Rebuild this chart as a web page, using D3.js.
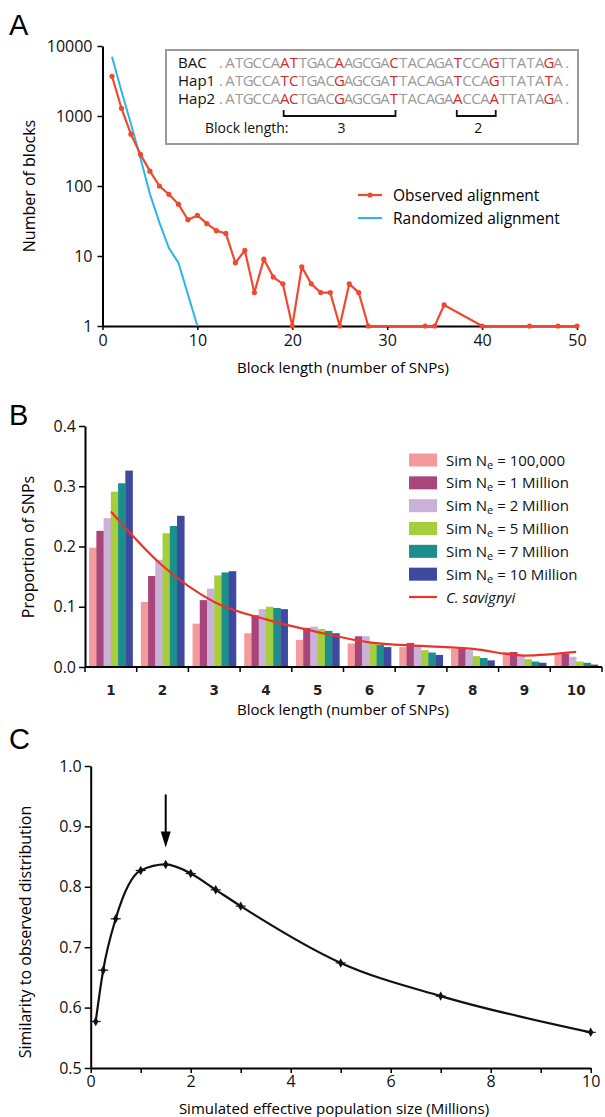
<!DOCTYPE html>
<html>
<head>
<meta charset="utf-8">
<script src="https://cdn.jsdelivr.net/npm/d3@7"></script>
<style>
  body { margin: 0; background: #fff; }
  svg text { font-family: "Open Sans", sans-serif; }
</style>
</head>
<body>
<svg id="fig" width="605" height="1117"></svg>
<script>
// ---- panel A data: counts of blocks per block length (log scale)
var obsLen = [1,2,3,4,5,6,7,8,9,10,11,12,13,14,15,16,17,18,19,20,21,22,23,24,25,26,27,28,34,35,36,40,45,48,50];
var obsCount = [3700,1290,550,283,163,100,76,55,33,38,29,23,21,8,12,3,9,5,4,1,7,4,3,3,1,4,3,1,1,1,2,1,1,1,1];
var randLen = [1,2,3,4,5,6,7,8,10];
var randCount = [7000,2250,770,250,77,30,13,8,1];

// alignment inset
var seqRows = ["BAC", "Hap1", "Hap2"];
var seqs = [
  "ATGCCAATTGACAAGCGACTACAGATCCAGTTATAGA",
  "ATGCCATCTGACGAGCGATTACAGATCCAGTTATATA",
  "ATGCCAACTGACGAGCGATTACAGAACCAATTATAGA"
];
var snpCols = [7, 8, 13, 19, 26, 30, 36];
var blocks = [{from: 7, to: 19, label: "3"}, {from: 26, to: 30, label: "2"}];

// ---- panel B data
var blockCats = [1,2,3,4,5,6,7,8,9,10];
var simNames = ["100,000", "1 Million", "2 Million", "5 Million", "7 Million", "10 Million"];
var simColors = ["#f59a9c", "#a8467c", "#c9b1d8", "#a5cd3c", "#1c8f8d", "#3d4a9f"];
var sim100k = [0.198,0.108,0.072,0.056,0.045,0.039,0.033,0.030,0.025,0.021];
var sim1M   = [0.226,0.151,0.111,0.086,0.065,0.051,0.040,0.032,0.025,0.022];
var sim2M   = [0.247,0.178,0.130,0.096,0.067,0.051,0.036,0.028,0.019,0.017];
var sim5M   = [0.291,0.222,0.152,0.100,0.063,0.040,0.028,0.018,0.013,0.009];
var sim7M   = [0.305,0.234,0.157,0.098,0.060,0.037,0.024,0.015,0.009,0.007];
var sim10M  = [0.326,0.251,0.159,0.096,0.056,0.033,0.020,0.011,0.007,0.004];
var savignyi = [0.258,0.168,0.108,0.079,0.058,0.041,0.035,0.030,0.019,0.025];
var simSeries = [sim100k, sim1M, sim2M, sim5M, sim7M, sim10M];

// ---- panel C data
var neSize = [0.1,0.25,0.5,1,1.5,2,2.5,3,5,7,10];
var similarity = [0.577,0.662,0.747,0.827,0.837,0.822,0.795,0.768,0.674,0.619,0.559];

var RED = "#ee4a32", BLUE = "#2ab6e8", GREYSEQ = "#9a9a9a", SNPRED = "#d6282b";
var svg = d3.select("#fig");

function styleAxis(g, size) {
    g.selectAll(".domain").attr("stroke", "#000").attr("stroke-width", 2);
    g.selectAll(".tick line").attr("stroke", "#000").attr("stroke-width", 1.5);
    g.selectAll(".tick text").attr("fill", "#111").style("font-size", size + "px")
        .style("font-family", "'Open Sans', sans-serif");
}

function panelLetter(t, x, y) {
    svg.append("text").attr("x", x).attr("y", y).text(t)
        .style("font-family", "'Liberation Sans', Arial, sans-serif")
        .style("font-size", "29px").attr("fill", "#000");
}

//////// PANEL A
var xA = d3.scaleLinear().domain([0, 50]).range([102.5, 577]);
var yA = d3.scaleLog().domain([1, 10000]).range([326, 46]);
var gA = svg.append("g");

panelLetter("A", 9, 35);

gA.append("g").attr("transform", "translate(0," + yA(1) + ")")
    .call(d3.axisBottom(xA).tickValues([0,10,20,30,40,50]).tickSize(4).tickSizeOuter(0).tickPadding(5))
    .call(styleAxis, 16);
gA.append("g").attr("transform", "translate(" + xA(0) + ",0)")
    .call(d3.axisLeft(yA).tickValues([1,10,100,1000,10000]).tickFormat(d3.format("d")).tickSize(5).tickSizeOuter(0).tickPadding(5))
    .call(styleAxis, 16);

gA.append("text").attr("x", 343).attr("y", 373).attr("text-anchor", "middle")
    .style("font-size", "15px").text("Block length (number of SNPs)");
gA.append("text").attr("transform", "translate(35,186) rotate(-90)").attr("text-anchor", "middle")
    .style("font-size", "16px").text("Number of blocks");

var lineA = d3.line().x(function (d) { return xA(d[0]); }).y(function (d) { return yA(d[1]); });
var randPts = d3.zip(randLen, randCount);
var obsPts = d3.zip(obsLen, obsCount);

gA.append("path").datum(randPts).attr("d", lineA)
    .attr("fill", "none").attr("stroke", BLUE).attr("stroke-width", 2);
gA.append("path").datum(obsPts).attr("d", lineA)
    .attr("fill", "none").attr("stroke", RED).attr("stroke-width", 2.2).attr("stroke-linejoin", "round");
gA.selectAll(".obsDot").data(obsPts).enter().append("circle")
    .attr("class", "obsDot")
    .attr("cx", function (d) { return xA(d[0]); })
    .attr("cy", function (d) { return yA(d[1]); })
    .attr("r", 2.6).attr("fill", RED);

// legend A
var legA = gA.append("g").attr("transform", "translate(358,195)");
legA.append("line").attr("x1", 0).attr("x2", 24).attr("stroke", RED).attr("stroke-width", 2.2);
legA.append("circle").attr("cx", 12).attr("r", 2.6).attr("fill", RED);
legA.append("text").attr("x", 35).attr("y", 5.5).style("font-size", "15.5px").text("Observed alignment");
legA.append("line").attr("x1", 0).attr("x2", 24).attr("y1", 23).attr("y2", 23).attr("stroke", BLUE).attr("stroke-width", 2);
legA.append("text").attr("x", 35).attr("y", 28.5).style("font-size", "15.5px").text("Randomized alignment");

// alignment inset
var box = gA.append("g");
box.append("rect").attr("x", 166).attr("y", 50).attr("width", 412).attr("height", 94)
    .attr("fill", "#fff").attr("stroke", "#9a9a9a").attr("stroke-width", 2);
var colX = d3.scaleLinear().domain([1, 37]).range([230, 558]);
var rowY = d3.scaleLinear().domain([0, 2]).range([68, 104]);
seqRows.forEach(function (name, r) {
    box.append("text").attr("x", 178).attr("y", rowY(r)).style("font-size", "15px")
        .attr("fill", "#111").text(name);
    var chars = ("." + seqs[r] + ".").split("");
    box.selectAll(".seq" + r).data(chars).enter().append("text")
        .attr("class", "seq" + r)
        .attr("x", function (c, i) { return colX(i); })
        .attr("y", rowY(r))
        .attr("text-anchor", "middle")
        .style("font-size", "15px")
        .attr("fill", function (c, i) { return snpCols.indexOf(i) > -1 ? SNPRED : GREYSEQ; })
        .text(function (c) { return c; });
});
box.append("text").attr("x", 205).attr("y", 133).style("font-size", "14px").attr("fill", "#111").text("Block length:");
blocks.forEach(function (b) {
    var x1 = colX(b.from) - 1, x2 = colX(b.to) + 1.5;
    box.append("path").attr("d", "M" + x1 + ",110V116H" + x2 + "V110")
        .attr("fill", "none").attr("stroke", "#111").attr("stroke-width", 1.8);
    box.append("text").attr("x", (x1 + x2) / 2 + 2).attr("y", 133).attr("text-anchor", "middle")
        .style("font-size", "14px").attr("fill", "#111").text(b.label);
});

//////// PANEL B
var xB = d3.scaleBand().domain(blockCats).range([85, 602]).paddingInner(0.16).paddingOuter(0.08);
var xSub = d3.scaleBand().domain(d3.range(simSeries.length)).range([0, xB.bandwidth()]);
var yB = d3.scaleLinear().domain([0, 0.4]).range([667, 426]);
var gB = svg.append("g");

panelLetter("B", 9, 425);

simSeries.forEach(function (vals, s) {
    gB.selectAll(".bar" + s).data(vals).enter().append("rect")
        .attr("class", "bar" + s)
        .attr("x", function (v, i) { return xB(blockCats[i]) + xSub(s); })
        .attr("y", function (v) { return yB(v); })
        .attr("width", xSub.bandwidth() + 0.3)
        .attr("height", function (v) { return yB(0) - yB(v); })
        .attr("fill", simColors[s]);
});

var lineB = d3.line().curve(d3.curveMonotoneX)
    .x(function (v, i) { return xB(blockCats[i]) + xB.bandwidth() / 2; })
    .y(function (v) { return yB(v); });
gB.append("path").datum(savignyi).attr("d", lineB)
    .attr("fill", "none").attr("stroke", "#e8352a").attr("stroke-width", 2.2);

gB.append("g").attr("transform", "translate(85,0)")
    .call(d3.axisLeft(yB).tickValues([0,0.1,0.2,0.3,0.4]).tickFormat(d3.format(".1f")).tickSize(6).tickSizeOuter(0).tickPadding(3))
    .call(styleAxis, 16);

// x axis with ticks between groups
var step = xB.step();
var gBx = gB.append("g").attr("transform", "translate(0," + yB(0) + ")");
gBx.append("line").attr("x1", xB.range()[0]).attr("x2", xB.range()[1]).attr("stroke", "#000").attr("stroke-width", 2);
gBx.selectAll(".btick").data(d3.range(blockCats.length + 1)).enter().append("line")
    .attr("x1", function (k) { return xB.range()[0] + k * step; })
    .attr("x2", function (k) { return xB.range()[0] + k * step; })
    .attr("y1", 0).attr("y2", 5).attr("stroke", "#000").attr("stroke-width", 1.5);
gBx.selectAll(".blab").data(blockCats).enter().append("text")
    .attr("x", function (c) { return xB(c) + xB.bandwidth() / 2; })
    .attr("y", 28).attr("text-anchor", "middle")
    .style("font-family", "'DejaVu Sans', Verdana, sans-serif").style("font-weight", "bold")
    .style("font-size", "13.5px").attr("fill", "#222").text(function (c) { return c; });
gB.append("text").attr("x", 343).attr("y", 715).attr("text-anchor", "middle")
    .style("font-size", "15px").text("Block length (number of SNPs)");
gB.append("text").attr("transform", "translate(34,547) rotate(-90)").attr("text-anchor", "middle")
    .style("font-size", "16px").text("Proportion of SNPs");

// legend B
var legB = gB.append("g").attr("transform", "translate(409,460)");
var legRow = d3.scaleLinear().domain([0, 6]).range([0, 137]);
simNames.forEach(function (n, s) {
    var row = legB.append("g").attr("transform", "translate(0," + legRow(s) + ")");
    row.append("rect").attr("x", 0).attr("y", -6.5).attr("width", 28).attr("height", 13).attr("fill", simColors[s]);
    var t = row.append("text").attr("x", 37).attr("y", 5.5).style("font-size", "15px").attr("fill", "#111");
    t.append("tspan").text("Sim N");
    t.append("tspan").attr("dy", 3).style("font-size", "11px").text("e");
    t.append("tspan").attr("dy", -3).text(" = " + n);
});
var lastRow = legB.append("g").attr("transform", "translate(0," + legRow(6) + ")");
lastRow.append("line").attr("x1", 0).attr("x2", 28).attr("stroke", "#e8352a").attr("stroke-width", 2.2);
lastRow.append("text").attr("x", 37).attr("y", 5.5).style("font-size", "15px").style("font-style", "italic")
    .attr("fill", "#111").text("C. savignyi");

//////// PANEL C
var xC = d3.scaleLinear().domain([0, 10]).range([90.7, 590.7]);
var yC = d3.scaleLinear().domain([0.5, 1.0]).range([1068, 766]);
var gC = svg.append("g");

panelLetter("C", 9, 749);

gC.append("g").attr("transform", "translate(0," + yC(0.5) + ")")
    .call(d3.axisBottom(xC).ticks(10).tickFormat(function (d) { return d % 2 === 0 ? d : ""; })
        .tickSize(5).tickSizeOuter(0).tickPadding(3))
    .call(styleAxis, 16);
gC.append("g").attr("transform", "translate(" + xC(0) + ",0)")
    .call(d3.axisLeft(yC).tickValues([0.5,0.6,0.7,0.8,0.9,1.0]).tickFormat(d3.format(".1f")).tickSize(6).tickSizeOuter(0).tickPadding(3))
    .call(styleAxis, 16);

gC.append("text").attr("x", 334).attr("y", 1114).attr("text-anchor", "middle")
    .style("font-size", "15px").text("Simulated effective population size (Millions)");
gC.append("text").attr("transform", "translate(31,932) rotate(-90)").attr("text-anchor", "middle")
    .style("font-size", "16px").text("Similarity to observed distribution");

var cPts = d3.zip(neSize, similarity);
var lineC = d3.line().curve(d3.curveMonotoneX)
    .x(function (d) { return xC(d[0]); }).y(function (d) { return yC(d[1]); });
gC.append("path").datum(cPts).attr("d", lineC)
    .attr("fill", "none").attr("stroke", "#111").attr("stroke-width", 2.2);
var mk = gC.selectAll(".cmark").data(cPts).enter().append("g")
    .attr("class", "cmark")
    .attr("transform", function (d) { return "translate(" + xC(d[0]) + "," + yC(d[1]) + ")"; });
mk.append("path").attr("d", d3.symbol().type(d3.symbolDiamond).size(26)).attr("fill", "#111");
mk.append("line").attr("x1", -5).attr("x2", 5).attr("stroke", "#111").attr("stroke-width", 1.2);

// arrow over the peak
var peak = cPts[d3.maxIndex(similarity)];
var ax = xC(peak[0]), tipY = yC(peak[1]) - 17;
gC.append("line").attr("x1", ax).attr("x2", ax).attr("y1", tipY - 53).attr("y2", tipY - 12)
    .attr("stroke", "#000").attr("stroke-width", 2);
gC.append("path").attr("d", "M" + (ax - 5) + "," + (tipY - 16) + "L" + (ax + 5) + "," + (tipY - 16) + "L" + ax + "," + tipY + "Z")
    .attr("fill", "#000");
</script>
</body>
</html>
